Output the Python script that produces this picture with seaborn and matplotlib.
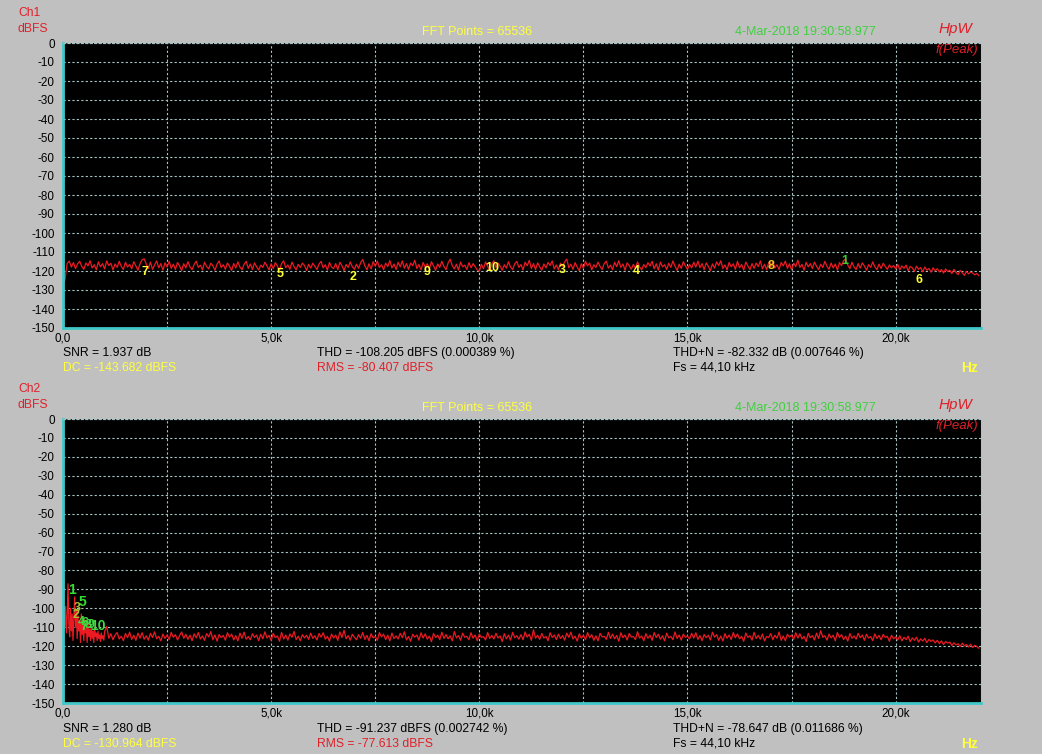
import numpy as np
import pandas as pd
import matplotlib
matplotlib.use('Agg')
import matplotlib.pyplot as plt
import seaborn as sns

W, H = 1042, 754

# ---- data ---------------------------------------------------------------
# Ch1 trace, one value every 50 Hz from 0 Hz (dBFS)
ch1_level = [
    -128.5, -124, -116, -114.8, -117.9, -115.6, -118.7, -116.2, -114.9, -117.5, -119.1, -115.8, -117.3, -114.6, -118.4, -116.7, -119.3, -115.2, -117.8, -116.1,
    -118.9, -114.7, -117.2, -115.9, -119.4, -116.3, -118.1, -114.9, -117.6, -119.2, -115.4, -117.9, -116.5, -118.8, -115.1, -117.4, -119.6, -116.2, -114.1, -113.6,
    -116.4, -118.7, -115.3, -119.1, -116.8, -114.7, -118.3, -116.1, -119.5, -115.7, -117.9, -114.9, -118.6, -116.4, -119.2, -115.5, -117.3, -119.8, -116.2, -118.4,
    -115.1, -117.8, -119.3, -116.6, -114.8, -118.1, -116.9, -119.4, -115.4, -117.6, -118.9, -115.9, -117.2, -119.6, -116.4, -114.7, -118.2, -116.7, -119.1, -115.8,
    -117.5, -119.7, -116.1, -118.4, -115.2, -117.9, -119.3, -116.5, -114.9, -118.6, -116.3, -119.2, -115.7, -117.8, -119.5, -116.9, -118.1, -115.4, -117.3, -119.4,
    -116.2, -118.8, -115.6, -117.4, -119.6, -116.1, -114.6, -118.3, -116.8, -119.1, -115.3, -117.7, -119.4, -116.5, -118.2, -115.8, -117.1, -119.7, -116.4, -118.5,
    -115.9, -117.6, -119.2, -116.3, -114.9, -118.4, -116.7, -119.5, -115.5, -117.9, -118.7, -116.1, -119.3, -115.4, -117.2, -119.8, -116.6, -118.1, -115.2, -117.8,
    -119.1, -116.4, -118.6, -115.6, -113.9, -117.3, -119.4, -116.2, -118.9, -115.1, -117.5, -114.8, -118.2, -116.7, -119.3, -115.9, -117.7, -114.5, -118.4, -116.3,
    -119.2, -115.4, -117.8, -114.7, -118.5, -116.1, -119.1, -115.8, -117.2, -114.3, -118.7, -116.6, -119.4, -115.5, -117.9, -116.2, -118.8, -115.1, -117.4, -119.6,
    -116.3, -118.1, -114.9, -117.6, -119.3, -115.7, -113.8, -117.2, -118.9, -116.4, -119.5, -115.3, -117.8, -116.9, -119.2, -115.6, -118.3, -116.1, -117.7, -119.4,
    -120.1, -116.5, -118.8, -115.2, -117.6, -119.9, -116.3, -114.6, -118.2, -115.8, -117.4, -119.6, -116.7, -118.5, -115.1, -117.9, -119.3, -116.2, -114.9, -118.1,
    -116.6, -119.4, -115.4, -117.2, -114.4, -118.7, -116.1, -119.2, -115.7, -117.8, -119.6, -116.3, -118.4, -115.5, -117.1, -114.7, -118.9, -116.8, -119.3, -115.9,
    -117.5, -115.2, -113.7, -118.3, -116.4, -119.1, -115.6, -117.9, -119.8, -116.2, -118.6, -114.9, -117.3, -115.8, -119.4, -116.7, -118.2, -115.3, -117.6, -119.2,
    -116.1, -114.8, -118.5, -116.9, -119.3, -115.4, -117.7, -114.6, -118.1, -116.3, -119.6, -115.7, -117.2, -119.1, -116.5, -118.7, -115.2, -117.9, -119.4, -116.6,
    -118.3, -115.6, -117.4, -114.9, -118.8, -116.2, -119.5, -115.3, -117.8, -116.7, -119.2, -115.9, -118.1, -114.7, -117.5, -119.7, -116.4, -118.6, -115.1, -117.3,
    -119.1, -116.5, -118.4, -115.4, -117.9, -114.8, -118.2, -116.1, -119.3, -115.7, -117.6, -119.8, -116.3, -118.5, -115.2, -117.1, -114.6, -118.7, -116.8, -119.4,
    -115.5, -117.8, -116.2, -119.1, -114.9, -118.3, -116.6, -119.5, -115.3, -117.4, -119.2, -116.1, -118.6, -115.8, -117.7, -114.7, -118.9, -116.4, -119.3, -115.6,
    -117.9, -115.1, -118.4, -116.7, -119.2, -115.5, -117.3, -114.8, -118.6, -116.2, -119.4, -115.9, -117.7, -114.3, -118.1, -116.5, -119.6, -115.4, -117.8, -116.1,
    -118.7, -115.3, -117.5, -119.3, -116.4, -118.2, -114.9, -117.6, -119.1, -115.8, -118.4, -116.3, -119.5, -115.6, -117.2, -114.5, -113.8, -116.9, -118.8, -115.4,
    -117.9, -119.2, -116.1, -118.5, -115.7, -117.4, -119.6, -116.6, -118.1, -115.2, -117.8, -119.3, -116.4, -118.7, -115.9, -117.6, -119.1, -116.8, -118.3, -117.1,
    -118.9, -116.5, -119.4, -117.3, -118.6, -116.9, -119.8, -117.6, -118.4, -120.2, -117.5, -119.1, -118.2, -120.4, -117.9, -119.6, -118.7, -120.6, -118.3, -119.9,
    -118.8, -120.5, -119.2, -121.1, -118.9, -120.3, -119.6, -121.4, -119.1, -120.8, -121.9, -119.7, -120.9, -122.3, -120.2, -121.5, -120.6, -121.1, -122.0, -121.3,
    -122.5,
]

# Ch2 trace: one value every 20 Hz below 1 kHz ...
ch2_level_lo = [
    -106, -101, -110, -99, -113, -104, -87, -108, -115, -100,
    -112, -103, -117, -105, -94, -110, -101, -116, -104, -112,
    -107, -118, -103, -114, -108, -117, -106, -113, -110, -118,
    -108, -115, -111, -117, -109, -116, -112, -118, -110, -115,
    -113, -117, -112, -116, -114, -117.5, -113, -116, -114.5, -116.8,
]
# ... then one value every 50 Hz from 1 kHz
ch2_level_hi = [
    -112.2, -109.6, -115.8, -113.4, -116.6, -114.1, -112.8, -116.2, -114.7, -117.1, -113.3, -115.5, -112.6, -116.4, -114.2, -116.9, -113.1, -115.7, -112.9, -116.3,
    -114.5, -116.8, -113.2, -115.4, -112.4, -116.1, -114.8, -117.2, -113.6, -115.9, -114.1, -116.5, -112.7, -115.3, -113.9, -116.7, -114.4, -112.5, -115.8, -113.7,
    -116.4, -114.2, -117.1, -113.5, -115.6, -112.8, -116.2, -114.6, -116.9, -113.3, -115.1, -112.3, -116.6, -114.1, -117.3, -113.8, -115.5, -114.3, -116.8, -112.9,
    -115.2, -113.6, -116.7, -114.4, -117.2, -113.1, -115.8, -112.6, -116.3, -114.9, -116.6, -113.4, -115.4, -114.1, -117.1, -113.7, -116.1, -112.4, -115.7, -114.3,
    -116.9, -113.2, -115.5, -114.6, -117.4, -112.7, -116.2, -114.1, -116.8, -113.5, -115.3, -112.2, -116.5, -114.7, -117.1, -113.9, -115.6, -114.2, -116.4, -113.1,
    -115.9, -114.5, -116.7, -113.3, -115.2, -112.9, -116.3, -114.8, -117.3, -113.6, -115.7, -114.1, -116.9, -112.5, -115.4, -111.6, -116.1, -114.4, -116.8, -113.7,
    -115.3, -116.6, -113.9, -115.8, -112.7, -116.4, -114.3, -117.1, -113.4, -115.6, -114.8, -116.9, -112.8, -115.1, -113.6, -116.5, -114.2, -117.2, -113.1, -115.9,
    -114.6, -116.2, -113.2, -115.5, -112.4, -116.7, -114.9, -117.4, -113.7, -115.2, -114.1, -116.8, -112.9, -115.7, -113.5, -116.3, -114.7, -117.6, -113.3, -115.4,
    -114.2, -116.5, -112.6, -115.9, -113.8, -116.1, -114.5, -117.2, -112.3, -115.6, -114.4, -116.9, -113.1, -115.3, -114.8, -116.6, -112.9, -115.8, -114.1, -117.1,
    -113.6, -115.4, -114.9, -116.7, -112.8, -115.9, -114.3, -116.2, -113.2, -115.6, -114.6, -117.5, -113.4, -116.1, -114.1, -116.8, -112.7, -115.5, -114.5, -116.3,
    -113.9, -116.6, -112.5, -115.2, -113.7, -116.9, -111.4, -115.8, -114.2, -116.4, -113.3, -115.7, -114.8, -117.1, -112.9, -115.4, -114.1, -116.5, -113.6, -115.9,
    -114.4, -116.8, -113.1, -115.3, -112.6, -116.2, -114.7, -117.3, -113.5, -115.8, -114.2, -116.6, -112.8, -115.6, -113.9, -116.9, -114.5, -117.2, -113.2, -115.1,
    -114.8, -116.4, -112.7, -115.9, -113.6, -116.1, -114.3, -117.4, -112.9, -115.5, -114.1, -116.7, -113.3, -115.2, -114.9, -116.5, -112.4, -115.7, -114.6, -117.1,
    -113.4, -115.8, -114.2, -116.9, -112.8, -115.4, -113.7, -116.3, -114.5, -117.2, -113.1, -115.6, -114.8, -116.6, -112.5, -115.9, -114.1, -116.8, -113.6, -115.3,
    -114.7, -116.2, -113.2, -115.7, -112.9, -116.4, -114.4, -117.1, -113.8, -115.5, -114.2, -116.7, -112.6, -115.2, -113.9, -116.9, -114.6, -117.3, -113.4, -115.8,
    -114.1, -116.5, -112.8, -115.6, -113.5, -116.1, -114.8, -117.4, -113.1, -115.3, -114.5, -116.8, -112.7, -115.9, -114.3, -116.3, -113.6, -117.2, -114.9, -115.4,
    -113.3, -116.6, -114.2, -115.8, -112.5, -116.9, -114.6, -117.1, -113.7, -115.2, -114.1, -116.4, -112.9, -115.7, -113.4, -116.2, -114.8, -117.5, -113.2, -115.5,
    -114.4, -116.7, -113.1, -115.9, -111.8, -115.3, -114.5, -116.8, -113.6, -115.6, -114.2, -117.2, -112.8, -115.4, -113.9, -116.5, -114.7, -117.3, -113.3, -115.8,
    -114.6, -116.3, -113.2, -115.5, -114.1, -116.9, -113.7, -115.7, -114.9, -117.1, -113.5, -115.9, -114.3, -116.6, -113.8, -115.4, -114.8, -117.4, -114.2, -116.1,
    -115.1, -116.8, -114.4, -117.2, -115.3, -116.5, -114.7, -117.6, -115.6, -116.9, -115.2, -117.8, -116.1, -117.3, -115.8, -118.1, -116.4, -117.5, -116.7, -118.3,
    -116.9, -118.6, -117.2, -119.1, -117.5, -118.4, -117.8, -119.6, -118.2, -119.3, -118.7, -120.1, -118.4, -119.8, -119.1, -120.4, -118.9, -120.7, -119.5, -120.2,
    -121.1,
]

# FFT bin frequencies (Hz) for the values above
ch1_freq = np.arange(len(ch1_level)) * 50
ch2_freq = np.concatenate([np.arange(len(ch2_level_lo)) * 20,
                           1000 + np.arange(len(ch2_level_hi)) * 50])

# harmonic markers: label, frequency (Hz), level (dBFS), colour
ch1_marks = ['7', '5', '2', '9', '10', '3', '4', '8', '1', '6']
ch1_mark_f = [1970, 5210, 6970, 8740, 10300, 11990, 13760, 17010, 18780, 20560]
ch1_mark_db = [-120.5, -121.6, -123.2, -120.5, -118.4, -119.5, -120, -117.4, -114.7, -124.7]
ch1_mark_c = ['#ffff30'] * 7 + ['#e8c020', '#30d030', '#ffff30']

ch2_marks = ['1', '5', '3', '2', '4', '6', '8', '7', '9', '10']
ch2_mark_f = [216, 456, 336, 312, 432, 528, 600, 504, 672, 830]
ch2_mark_db = [-90.5, -96.8, -100.0, -103.7, -107.2, -107.9, -108.9, -109.8, -108.9, -109.5]
ch2_mark_c = ['#30e030', '#30e030', '#a8c030', '#a8c030'] + ['#40d840'] * 6
ch2_mark_s = [10, 10, 9, 9, 9, 9, 9, 9, 9, 10]

yticks = list(range(0, -151, -10))
xticks = [0, 5000, 10000, 15000, 20000]
xtick_labels = ['0,0', '5,0k', '10,0k', '15,0k', '20,0k']
xminor = [2500, 7500, 12500, 17500]

channels = [
    {'name': 'Ch1', 'snr': 'SNR = 1.937 dB', 'dc': 'DC = -143.682 dBFS',
     'thd': 'THD = -108.205 dBFS (0.000389 %)', 'rms': 'RMS = -80.407 dBFS',
     'thdn': 'THD+N = -82.332 dB (0.007646 %)'},
    {'name': 'Ch2', 'snr': 'SNR = 1.280 dB', 'dc': 'DC = -130.964 dBFS',
     'thd': 'THD = -91.237 dBFS (0.002742 %)', 'rms': 'RMS = -77.613 dBFS',
     'thdn': 'THD+N = -78.647 dB (0.011686 %)'},
]

# ---- style --------------------------------------------------------------
BG = '#c0c0c0'
RED = '#ec1a22'
TXT_RED = '#e0202a'
YEL = '#ffff40'
GRN = '#40d040'
CYAN = '#40c8c8'
GRID = '#a8c4c4'

sns.set_style('white')
plt.rcParams['font.family'] = ['Liberation Sans', 'DejaVu Sans']

fig = plt.figure(figsize=(W / 100, H / 100), dpi=100, facecolor=BG)


def ftext(x, y, s, **kw):
    # place text by pixel position on the figure
    kw.setdefault('va', 'center')
    kw.setdefault('fontsize', 8.7)
    fig.text(x / W, 1 - y / H, s, **kw)


def panel(ax, df, marks, mark_f, mark_db, mark_c, mark_s, info, dy):
    ax.set_facecolor('black')
    sns.lineplot(data=df, x='freq', y='level', ax=ax, color=RED,
                 linewidth=0.9, estimator=None, sort=True)
    for lab, f, db, c, s in zip(marks, mark_f, mark_db, mark_c, mark_s):
        ax.text(f, db, lab, color=c, fontsize=s, fontweight='bold',
                ha='center', va='center')
    ax.set_xlim(0, 22050)
    ax.set_ylim(-150, 0)
    ax.set_yticks(yticks)
    ax.set_yticklabels([str(v) for v in yticks])
    ax.set_xticks(xticks)
    ax.set_xticklabels(xtick_labels)
    ax.set_xticks(xminor, minor=True)
    ax.set_xlabel('')
    ax.set_ylabel('')
    ax.tick_params(axis='both', which='both', length=0, labelsize=8.4,
                   labelcolor='black')
    ax.tick_params(axis='x', pad=3)
    ax.tick_params(axis='y', pad=6)
    ax.grid(True, which='both', color=GRID, linestyle=(0, (2, 2)), linewidth=0.8)
    for s in ['left', 'bottom']:
        ax.spines[s].set_color(CYAN)
        ax.spines[s].set_linewidth(2)
    for s in ['top', 'right']:
        ax.spines[s].set_color(GRID)
        ax.spines[s].set_linestyle((0, (2, 2)))
        ax.spines[s].set_linewidth(0.8)
    ax.text(0.997, 0.975, 'f(Peak)', transform=ax.transAxes, color=TXT_RED,
            fontsize=9.5, style='italic', ha='right', va='center')

    ftext(18, 13 + dy, info['name'], color=TXT_RED, ha='left')
    ftext(18, 29 + dy, 'dBFS', color=TXT_RED, ha='left')
    ftext(477, 32 + dy, 'FFT Points = 65536', color=YEL, ha='center', fontsize=9)
    ftext(805, 32 + dy, '4-Mar-2018 19:30:58.977', color=GRN, ha='center',
          fontsize=9)
    ftext(955, 29 + dy, 'HpW', color=TXT_RED, ha='center', fontsize=11,
          style='italic')
    ftext(63, 353 + dy, info['snr'], color='black', ha='left')
    ftext(63, 368 + dy, info['dc'], color=YEL, ha='left')
    ftext(317, 353 + dy, info['thd'], color='black', ha='left')
    ftext(317, 368 + dy, info['rms'], color=TXT_RED, ha='left')
    ftext(673, 353 + dy, info['thdn'], color='black', ha='left')
    ftext(673, 368 + dy, 'Fs = 44,10 kHz', color='black', ha='left')
    ftext(970, 368 + dy, 'Hz', color=YEL, ha='center', fontsize=10,
          fontweight='bold')


df1 = pd.DataFrame({'freq': ch1_freq, 'level': ch1_level})
df2 = pd.DataFrame({'freq': ch2_freq, 'level': ch2_level_lo + ch2_level_hi})

left, width = 63 / W, (981 - 63) / W
ax1 = fig.add_axes([left, 1 - 328 / H, width, (328 - 43) / H])
ax2 = fig.add_axes([left, 1 - 703 / H, width, (703 - 419) / H])

panel(ax1, df1, ch1_marks, ch1_mark_f, ch1_mark_db, ch1_mark_c, [9] * 10,
      channels[0], 0)
panel(ax2, df2, ch2_marks, ch2_mark_f, ch2_mark_db, ch2_mark_c, ch2_mark_s,
      channels[1], 376)

fig.savefig('out.png', dpi=100, facecolor=BG)
